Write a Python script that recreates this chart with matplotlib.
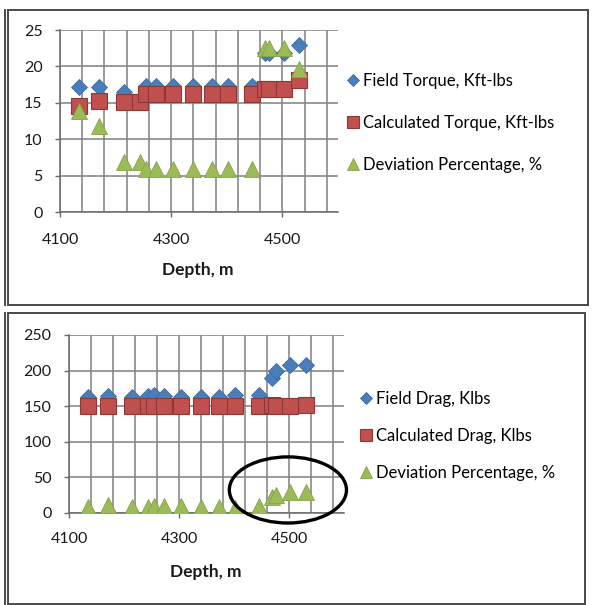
import matplotlib
matplotlib.use("Agg")
import matplotlib.pyplot as plt
from matplotlib.patches import Ellipse
from matplotlib.lines import Line2D

plt.rcParams['font.family'] = ['Lato', 'DejaVu Sans']

# Survey depths, m
depth = [4135, 4170, 4215, 4243, 4254, 4272, 4303, 4340, 4373, 4402,
         4446, 4469, 4476, 4502, 4530]

# Torque, Kft-lbs
field_torque = [17.2, 17.2, 16.5, 15.5, 17.3, 17.3, 17.3, 17.3, 17.3, 17.3,
                17.3, 21.8, 21.8, 21.8, 22.9]
calc_torque = [14.6, 15.2, 15.1, 15.1, 16.2, 16.2, 16.2, 16.2, 16.2, 16.2,
               16.2, 16.9, 16.9, 16.9, 18.2]
dev_torque = [13.9, 11.8, 6.9, 6.9, 5.9, 5.9, 5.9, 5.9, 5.9, 5.9,
              5.9, 22.5, 22.5, 22.5, 19.7]

# Drag, Klbs
field_drag = [163, 164, 163, 164, 165, 164, 163, 163, 163, 165,
              165, 190, 200, 208, 208]
calc_drag = [150, 150, 150, 150, 150, 150, 150, 150, 150, 150,
             150, 151, 150, 150, 152]
dev_drag = [8.4, 10.8, 8.4, 8.4, 9.0, 9.5, 9.5, 8.4, 8.4, 7.0,
            9.7, 22.5, 25.0, 29.5, 29.5]

x_ticks = [4100, 4300, 4500]
torque_labels = ["Field Torque, Kft-lbs", "Calculated Torque, Kft-lbs", "Deviation Percentage, %"]
drag_labels = ["Field Drag, Klbs", "Calculated Drag, Klbs", "Deviation Percentage, %"]

W, H = 593, 605
fig = plt.figure(figsize=(W / 100, H / 100), dpi=100)

BLUE = "#4a7ebb"
BLUE_E = "#3d6aa3"
RED = "#c0504d"
RED_E = "#8c3836"
GREEN = "#9bbb59"
GREEN_E = "#86a34a"
GRID = "#858585"


def fx(px):
    return px / W


def fy(py):
    return 1 - py / H


# panel frames
def frame(x0, y0, x1, y1, double_left=True):
    kw = dict(transform=fig.transFigure, color="#4a4a4a", lw=1.4)
    fig.add_artist(Line2D([fx(x0), fx(x1)], [fy(y0), fy(y0)], **kw))
    fig.add_artist(Line2D([fx(x1), fx(x1)], [fy(y0), fy(y1)], **kw))
    fig.add_artist(Line2D([fx(x0), fx(x1)], [fy(y1), fy(y1)], **kw))
    fig.add_artist(Line2D([fx(x0), fx(x0)], [fy(y0), fy(y1)], **kw))
    if double_left:
        fig.add_artist(Line2D([fx(x0 - 3), fx(x0 - 3)], [fy(y0), fy(y1)], **kw))


frame(8, 10, 588, 305)
frame(8, 313, 585, 604)


def setup(ax, ymax, ystep, xpad):
    ax.set_xlim(4100, 4600)
    ax.set_ylim(0, ymax)
    ax.set_xticks(x_ticks)
    ax.set_xticks(list(range(4140, 4600, 40)), minor=True)
    ax.set_yticks(list(range(0, ymax + 1, ystep)))
    ax.grid(True, which="both", axis="x", color=GRID, lw=1.15)
    ax.grid(True, which="major", axis="y", color=GRID, lw=1.15)
    ax.set_axisbelow(True)
    for s in ("top", "right"):
        ax.spines[s].set_visible(False)
    for s in ("left", "bottom"):
        ax.spines[s].set_color("#6a6a6a")
        ax.spines[s].set_linewidth(1.1)
    ax.tick_params(which="major", direction="out", length=3.5, width=1.0,
                   color="#6a6a6a", labelsize=11.5, labelcolor="#1a1a1a")
    ax.tick_params(axis="x", which="major", pad=xpad)
    ax.tick_params(axis="y", which="major", pad=9)
    ax.tick_params(which="minor", length=0)


def draw(ax, field, calc, dev):
    h1, = ax.plot(depth, field, ls="none", marker="D", ms=8.5, mfc=BLUE, mec=BLUE_E, mew=0.6, zorder=3)
    h2, = ax.plot(depth, calc, ls="none", marker="s", ms=11.5, mfc=RED, mec=RED_E, mew=0.8, zorder=4)
    h3, = ax.plot(depth, dev, ls="none", marker="^", ms=12, mfc=GREEN, mec=GREEN_E, mew=0.6, zorder=5)
    return [h1, h2, h3]


# torque panel
ax1 = fig.add_axes([fx(60), fy(212), fx(338) - fx(60), fy(30) - fy(212)])
setup(ax1, 25, 5, 11.5)
hs1 = draw(ax1, field_torque, calc_torque, dev_torque)
fig.text(fx(198), fy(270), "Depth, m", ha="center", va="center", fontsize=12.5, fontweight="bold", color="#1a1a1a")
fig.legend(hs1, torque_labels, loc="upper left", bbox_to_anchor=(fx(348), fy(73)),
           frameon=False, fontsize=12, handlelength=0.6, handletextpad=0.3,
           labelspacing=1.56, borderpad=0, borderaxespad=0, markerscale=0.75)

# drag panel
ax2 = fig.add_axes([fx(69), fy(512.7), fx(344) - fx(69), fy(335) - fy(512.7)])
setup(ax2, 250, 50, 10.5)
hs2 = draw(ax2, field_drag, calc_drag, dev_drag)
fig.text(fx(206), fy(572), "Depth, m", ha="center", va="center", fontsize=12.5, fontweight="bold", color="#1a1a1a")
fig.legend(hs2, drag_labels, loc="upper left", bbox_to_anchor=(fx(361), fy(391)),
           frameon=False, fontsize=12, handlelength=0.6, handletextpad=0.3,
           labelspacing=1.26, borderpad=0, borderaxespad=0, markerscale=0.75)

# highlight around the late drag points
ax2.add_patch(Ellipse((4498, 32), 213, 93, fill=False, ec="black", lw=2.4,
                      clip_on=False, zorder=6))

fig.savefig("out.png", dpi=100)
